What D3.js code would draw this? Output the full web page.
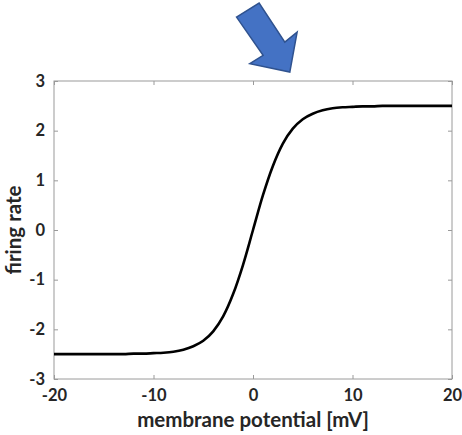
<!DOCTYPE html>
<html>
<head>
<meta charset="utf-8">
<script src="https://cdn.jsdelivr.net/npm/d3@7"></script>
<style>
  html, body { margin: 0; padding: 0; background: #fff; }
  svg { display: block; }
  text { font-family: "Lato", "Open Sans", sans-serif; font-weight: 700; fill: #262626; }
</style>
</head>
<body>
<svg id="chart" width="462" height="435"></svg>
<script>
// membrane potential (mV) and the corresponding firing rate of the sigmoid response
const potential = [-20, -19, -18, -17, -16, -15, -14, -13, -12, -11, -10, -9, -8, -7, -6, -5, -4, -3, -2, -1,
                   0, 1, 2, 3, 4, 5, 6, 7, 8, 9, 10, 11, 12, 13, 14, 15, 16, 17, 18, 19, 20];
const firingRate = [-2.50, -2.50, -2.50, -2.50, -2.50, -2.50, -2.50, -2.50, -2.49, -2.49, -2.48, -2.47, -2.45, -2.41, -2.34, -2.23, -2.04, -1.74, -1.29, -0.70,
                    0.00, 0.70, 1.29, 1.74, 2.04, 2.23, 2.34, 2.41, 2.45, 2.47, 2.48, 2.49, 2.49, 2.50, 2.50, 2.50, 2.50, 2.50, 2.50, 2.50, 2.50];
const xTicks = [-20, -10, 0, 10, 20];
const yTicks = [-3, -2, -1, 0, 1, 2, 3];
// where the annotation arrow points (data units)
const arrowTarget = [3.7, 3.18];

const svg = d3.select("#chart");
const plotLeft = 54, plotRight = 452, plotTop = 81, plotBottom = 379;

const x = d3.scaleLinear().domain([-20, 20]).range([plotLeft, plotRight]);
const y = d3.scaleLinear().domain([-3, 3]).range([plotBottom, plotTop]);

const axisColor = "#9a9a9a";
const tickLen = 4;

// box frame
svg.append("rect")
  .attr("x", plotLeft).attr("y", plotTop)
  .attr("width", plotRight - plotLeft).attr("height", plotBottom - plotTop)
  .attr("fill", "none").attr("stroke", axisColor).attr("stroke-width", 1);

function styleAxis(g) {
  g.select(".domain").remove();
  g.selectAll(".tick line").attr("stroke", axisColor);
  g.selectAll(".tick text").style("font-size", "16.5px").attr("fill", "#262626");
}

const fmt = d => String(d);

// bottom axis with inward ticks
svg.append("g").attr("transform", `translate(0,${plotBottom})`)
  .call(d3.axisBottom(x).tickValues(xTicks).tickFormat(fmt).tickSizeInner(-tickLen).tickSizeOuter(0).tickPadding(10))
  .call(styleAxis);
// top axis: ticks only
svg.append("g").attr("transform", `translate(0,${plotTop})`)
  .call(d3.axisTop(x).tickValues(xTicks).tickFormat("").tickSizeInner(-tickLen).tickSizeOuter(0))
  .call(styleAxis);
// left axis
svg.append("g").attr("transform", `translate(${plotLeft},0)`)
  .call(d3.axisLeft(y).tickValues(yTicks).tickFormat(fmt).tickSizeInner(-tickLen).tickSizeOuter(0).tickPadding(9))
  .call(styleAxis);
// right axis: ticks only
svg.append("g").attr("transform", `translate(${plotRight},0)`)
  .call(d3.axisRight(y).tickValues(yTicks).tickFormat("").tickSizeInner(-tickLen).tickSizeOuter(0))
  .call(styleAxis);

// sigmoid curve
const line = d3.line()
  .x((d, i) => x(potential[i]))
  .y(d => y(d))
  .curve(d3.curveMonotoneX);

svg.append("path")
  .datum(firingRate)
  .attr("d", line)
  .attr("fill", "none")
  .attr("stroke", "#000")
  .attr("stroke-width", 2.6)
  .attr("stroke-linejoin", "round");

// axis titles
svg.append("text")
  .attr("x", (plotLeft + plotRight) / 2).attr("y", 427)
  .attr("text-anchor", "middle")
  .style("font-size", "20.5px")
  .text("membrane potential [mV]");

svg.append("text")
  .attr("transform", `translate(21,${(plotTop + plotBottom) / 2}) rotate(-90)`)
  .attr("text-anchor", "middle")
  .style("font-size", "20.5px")
  .text("firing rate");

// block arrow pointing down-right at the plateau onset
const tipX = x(arrowTarget[0]), tipY = y(arrowTarget[1]);
const arrowShape = [[-53.3, -55], [-30.7, -69], [-5, -30], [7.3, -40], [0, 0], [-40, -8.4], [-26.7, -16.7]];
svg.append("path")
  .attr("d", d3.line()(arrowShape.map(p => [tipX + p[0], tipY + p[1]])) + "Z")
  .attr("fill", "#4472C4")
  .attr("stroke", "#2F528F")
  .attr("stroke-width", 1.5)
  .attr("stroke-linejoin", "miter");
</script>
</body>
</html>
